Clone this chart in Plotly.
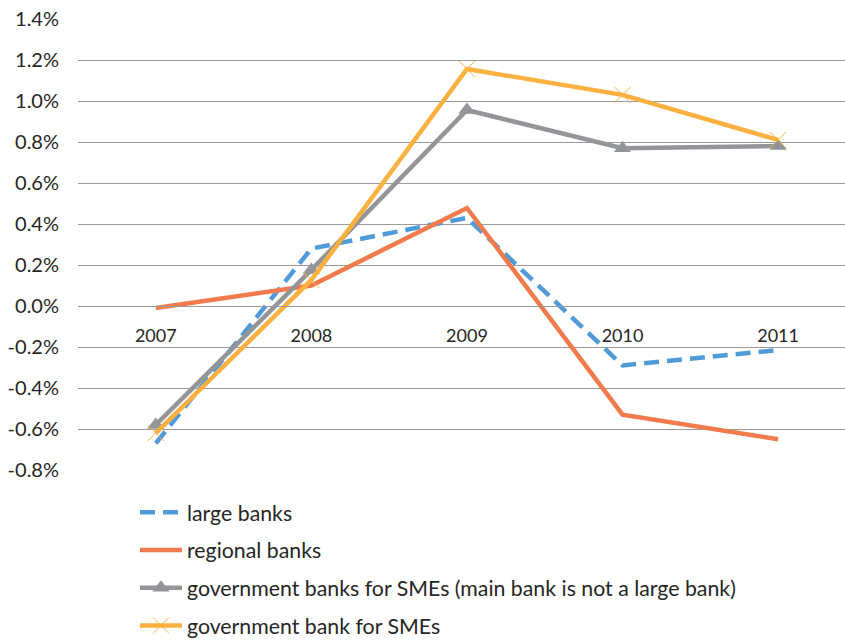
import plotly.graph_objects as go

# Categories and series (share of loans, %)
years = ["2007", "2008", "2009", "2010", "2011"]
large_banks = [-0.67, 0.28, 0.43, -0.29, -0.215]
regional_banks = [-0.01, 0.10, 0.478, -0.53, -0.65]
gov_sme_not_large = [-0.58, 0.176, 0.956, 0.77, 0.78]
gov_sme = [-0.62, 0.127, 1.156, 1.03, 0.81]

y_ticks = [-0.8, -0.6, -0.4, -0.2, 0.0, 0.2, 0.4, 0.6, 0.8, 1.0, 1.2, 1.4]
y_tick_text = ["%.1f%%" % v for v in y_ticks]

FONT = "Lato"
TEXT = "#262626"
GRID = "#9a9a9a"

fig = go.Figure()

fig.add_trace(go.Scatter(
    x=years, y=large_banks, name="large banks", mode="lines",
    line=dict(color="#4F9AD8", width=4.5, dash="15px,8px"),
    legendgroup="a",
))
fig.add_trace(go.Scatter(
    x=years, y=regional_banks, name="regional banks", mode="lines",
    line=dict(color="#F27A4C", width=4.5),
    legendgroup="b",
))
fig.add_trace(go.Scatter(
    x=years, y=gov_sme_not_large,
    name="government banks for SMEs (main bank is not a large bank)",
    mode="lines+markers",
    line=dict(color="#939598", width=4.5),
    marker=dict(symbol="triangle-up", size=15, color="#939598"),
    legendgroup="c",
))
fig.add_trace(go.Scatter(
    x=years, y=gov_sme, name="government bank for SMEs", mode="lines+markers",
    line=dict(color="#FBB040", width=4.5),
    marker=dict(symbol="x-thin", size=16, color="#FBB040",
                line=dict(color="#FBB040", width=1)),
    legendgroup="d",
))

y_min, y_max = -0.8, 1.4

fig.update_layout(
    width=845, height=640,
    margin=dict(l=78, r=0, t=19, b=170, autoexpand=False),
    paper_bgcolor="white", plot_bgcolor="white",
    font=dict(family=FONT, size=18, color=TEXT),
    showlegend=True,
    legend=dict(
        x=(135 - 78) / 767, y=(470 - 492) / 451,
        xanchor="left", yanchor="top",
        orientation="v", tracegroupgap=7,
        font=dict(family=FONT, size=21.3, color=TEXT),
        bgcolor="rgba(0,0,0,0)", itemwidth=42,
    ),
    xaxis=dict(
        type="category", range=[-0.5, 4.43],
        showgrid=False, zeroline=False,
        showline=True, linecolor=GRID, linewidth=1,
        anchor="free", position=(0 - y_min) / (y_max - y_min),
        ticks="", ticklabelstandoff=13,
        tickfont=dict(family=FONT, size=18, color=TEXT),
    ),
    yaxis=dict(
        range=[y_min, y_max],
        tickvals=y_ticks, ticktext=y_tick_text,
        showgrid=True, gridcolor=GRID, gridwidth=1,
        zeroline=False, showline=False, ticks="",
        ticklabelstandoff=18,
        tickfont=dict(family=FONT, size=20, color=TEXT),
    ),
)

fig.write_html("out.html")
